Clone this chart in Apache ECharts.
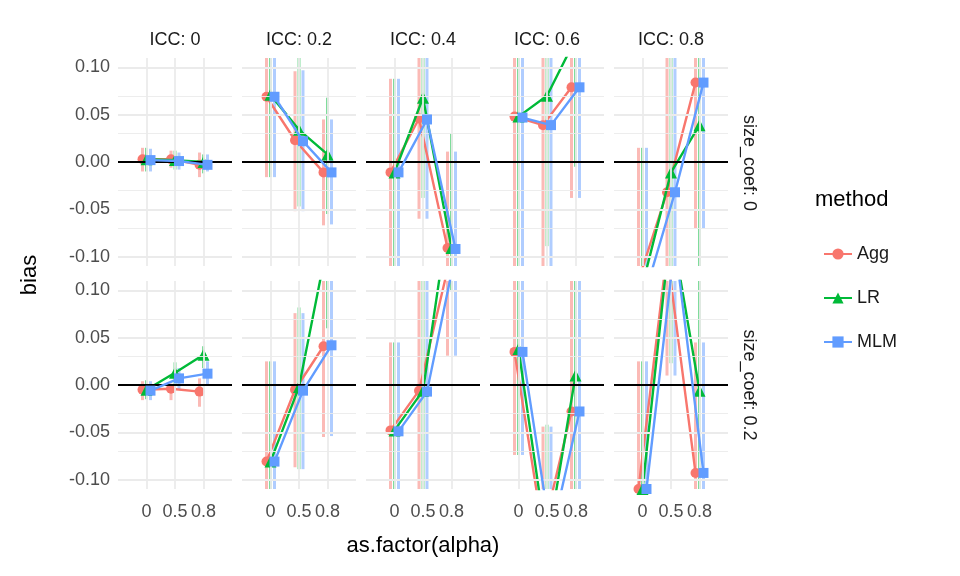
<!DOCTYPE html>
<html>
<head>
<meta charset="utf-8">
<script src="https://cdn.jsdelivr.net/npm/echarts@6/dist/echarts.min.js"></script>
<style>html,body{margin:0;background:#fff}#chart{width:960px;height:576px}</style>
</head>
<body>
<div id="chart"></div>
<script>
var alphaLabels = ['0', '0.5', '0.8'];
var iccLabels = ['ICC: 0', 'ICC: 0.2', 'ICC: 0.4', 'ICC: 0.6', 'ICC: 0.8'];
var sizeLabels = ['size_coef: 0', 'size_coef: 0.2'];
var methods = ['Agg', 'LR', 'MLM'];
var yTicks = [-0.1, -0.05, 0, 0.05, 0.1];

// mean bias [row][icc][alpha]
var aggMean = [
  [[0.003, 0.003, -0.003], [0.069, 0.023, -0.011], [-0.011, 0.046, -0.091], [0.048, 0.039, 0.079], [-0.125, -0.032, 0.084]],
  [[-0.005, -0.004, -0.007], [-0.081, -0.005, 0.041], [-0.048, -0.006, 0.122], [0.035, -0.155, -0.028], [-0.11, 0.14, -0.093]]
];
var lrMean = [
  [[0.003, 0.002, 0.0], [0.071, 0.034, 0.008], [-0.011, 0.068, -0.091], [0.048, 0.070, 0.13], [-0.13, -0.011, 0.039]],
  [[-0.005, 0.013, 0.032], [-0.081, -0.002, 0.15], [-0.048, -0.006, 0.2], [0.038, -0.17, 0.01], [-0.11, 0.17, -0.006]]
];
var mlmMean = [
  [[0.002, 0.001, -0.003], [0.069, 0.022, -0.011], [-0.011, 0.045, -0.092], [0.047, 0.039, 0.079], [-0.134, -0.032, 0.084]],
  [[-0.006, 0.007, 0.012], [-0.081, -0.006, 0.042], [-0.049, -0.007, 0.139], [0.035, -0.16, -0.028], [-0.11, 0.15, -0.093]]
];
// interval bounds
var aggLo = [
  [[-0.01, -0.006, -0.016], [-0.016, -0.052, -0.067], [-0.2, -0.06, -0.2], [-0.2, -0.2, -0.038], [-0.2, -0.2, -0.07]],
  [[-0.016, -0.016, -0.023], [-0.2, -0.087, -0.055], [-0.2, -0.2, 0.031], [-0.074, -0.2, -0.2], [-0.2, 0.01, -0.2]]
];
var aggHi = [
  [[0.015, 0.012, 0.01], [0.2, 0.096, 0.045], [0.088, 0.2, 0.011], [0.2, 0.2, 0.2], [0.015, 0.2, 0.2]],
  [[0.004, 0.001, 0.007], [0.025, 0.076, 0.2], [0.045, 0.2, 0.2], [0.2, -0.044, 0.2], [0.025, 0.2, 0.045]]
];
var lrLo = [
  [[-0.01, -0.008, -0.012], [-0.016, -0.047, -0.055], [-0.2, -0.038, -0.2], [-0.2, -0.089, -0.005], [-0.2, -0.2, -0.2]],
  [[-0.015, 0.001, 0.018], [-0.2, -0.089, 0.06], [-0.2, -0.2, 0.1], [-0.074, -0.2, -0.2], [-0.2, 0.023, -0.2]]
];
var lrHi = [
  [[0.015, 0.012, 0.008], [0.2, 0.2, 0.068], [0.088, 0.2, 0.03], [0.2, 0.2, 0.2], [0.015, 0.2, 0.2]],
  [[0.005, 0.024, 0.041], [0.025, 0.082, 0.2], [0.045, 0.2, 0.2], [0.2, -0.042, 0.2], [0.025, 0.2, 0.2]]
];
var mlmLo = [
  [[-0.01, -0.008, -0.01], [-0.016, -0.052, -0.066], [-0.2, -0.06, -0.2], [-0.2, -0.2, -0.038], [-0.2, -0.2, -0.07]],
  [[-0.016, -0.005, 0.001], [-0.2, -0.089, -0.054], [-0.2, -0.2, 0.031], [-0.074, -0.2, -0.2], [-0.2, 0.01, -0.2]]
];
var mlmHi = [
  [[0.014, 0.01, 0.008], [0.2, 0.097, 0.045], [0.088, 0.2, 0.011], [0.2, 0.2, 0.2], [0.015, 0.2, 0.2]],
  [[0.004, 0.018, 0.025], [0.025, 0.076, 0.2], [0.045, 0.2, 0.2], [0.2, -0.044, 0.2], [0.025, 0.2, 0.045]]
];

var means = [aggMean, lrMean, mlmMean];
var los = [aggLo, lrLo, mlmLo];
var his = [aggHi, lrHi, mlmHi];
var colors = ['#F8766D', '#00BA38', '#619CFF'];
var symbols = ['circle', 'triangle', 'rect'];
var dodge = [-0.14, 0, 0.14];
var YMIN = -0.11, YMAX = 0.11;

var chart = echarts.init(document.getElementById('chart'));
var grids = [], xAxes = [], yAxes = [], series = [], graphics = [];
var tickFont = { color: '#4d4d4d', fontSize: 18, fontFamily: 'Liberation Sans' };

for (var r = 0; r < 2; r++) {
  for (var c = 0; c < 5; c++) {
    var gi = r * 5 + c;
    grids.push({ left: 118 + c * 124, top: r === 0 ? 58 : 281, width: 114, height: 208 });
    xAxes.push({
      type: 'value', gridIndex: gi, min: 0, max: 4,
      axisLine: { show: false }, axisTick: { show: false }, splitLine: { show: false },
      axisLabel: r === 1 ? Object.assign({
        customValues: [1, 2, 3], margin: 14, hideOverlap: false,
        formatter: function (v) { return alphaLabels[v - 1]; }
      }, tickFont) : { show: false }
    });
    yAxes.push({
      type: 'value', gridIndex: gi, min: YMIN, max: YMAX,
      axisLine: { show: false }, axisTick: { show: false }, splitLine: { show: false },
      axisLabel: c === 0 ? Object.assign({
        customValues: yTicks, margin: 8,
        formatter: function (v) { return v.toFixed(2); }
      }, tickFont) : { show: false }
    });
    // grid lines
    var gl = [];
    [-0.1, -0.075, -0.05, -0.025, 0.025, 0.05, 0.075, 0.1].forEach(function (v) {
      var major = Math.round(v * 1000) % 50 === 0;
      gl.push({ yAxis: v, lineStyle: { color: '#ebebeb', width: major ? 1.8 : 0.9, type: 'solid' } });
    });
    [1, 2, 3].forEach(function (v) {
      gl.push({ xAxis: v, lineStyle: { color: '#ebebeb', width: 1.8, type: 'solid' } });
    });
    series.push({
      type: 'line', xAxisIndex: gi, yAxisIndex: gi, data: [[2, 0]], showSymbol: false,
      lineStyle: { opacity: 0 }, silent: true, z: 0,
      markLine: { silent: true, symbol: 'none', label: { show: false }, data: gl, animation: false }
    });
    // error bars
    for (var m = 0; m < 3; m++) {
      var eb = [];
      for (var a = 0; a < 3; a++) eb.push([a + 1 + dodge[m], los[m][r][c][a], his[m][r][c][a]]);
      series.push({
        type: 'custom', xAxisIndex: gi, yAxisIndex: gi, data: eb, silent: true, z: 1,
        encode: { x: 0, y: [1, 2] },
        renderItem: (function (col) {
          return function (params, api) {
            var x = api.value(0);
            var lo = Math.max(api.value(1), YMIN), hi = Math.min(api.value(2), YMAX);
            var p1 = api.coord([x, lo]), p2 = api.coord([x, hi]);
            return { type: 'line', shape: { x1: p1[0], y1: p1[1], x2: p2[0], y2: p2[1] },
              style: { stroke: col, lineWidth: 3, opacity: 0.5 } };
          };
        })(colors[m])
      });
    }
    // zero line
    series.push({
      type: 'line', xAxisIndex: gi, yAxisIndex: gi, data: [[2, 0]], showSymbol: false,
      lineStyle: { opacity: 0 }, silent: true, z: 2,
      markLine: { silent: true, symbol: 'none', label: { show: false }, animation: false,
        data: [{ yAxis: 0, lineStyle: { color: '#000', width: 2.2, type: 'solid' } }] }
    });
    // means
    for (var m2 = 0; m2 < 3; m2++) {
      var pts = [];
      for (var a2 = 0; a2 < 3; a2++) pts.push([a2 + 1 + dodge[m2], means[m2][r][c][a2]]);
      series.push({
        name: methods[m2], type: 'line', xAxisIndex: gi, yAxisIndex: gi, data: pts,
        symbol: symbols[m2], symbolSize: m2 === 1 ? 12 : 10, clip: true, z: 3 + m2,
        itemStyle: { color: colors[m2] }, lineStyle: { color: colors[m2], width: 2.4 },
        animation: false
      });
    }
  }
}

for (var c2 = 0; c2 < 5; c2++) {
  graphics.push({ type: 'text', x: 175 + c2 * 124, y: 40, style: { text: iccLabels[c2],
    fill: '#1a1a1a', font: '18px "Liberation Sans"', textAlign: 'center', textVerticalAlign: 'middle' } });
}
[163, 385].forEach(function (yc, i) {
  graphics.push({ type: 'text', x: 749, y: yc, rotation: -Math.PI / 2, style: { text: sizeLabels[i],
    fill: '#1a1a1a', font: '18px "Liberation Sans"', textAlign: 'center', textVerticalAlign: 'middle' } });
});
graphics.push({ type: 'text', x: 30, y: 275, rotation: Math.PI / 2, style: { text: 'bias',
  fill: '#000', font: '22px "Liberation Sans"', textAlign: 'center', textVerticalAlign: 'middle' } });
graphics.push({ type: 'text', x: 423, y: 546, style: { text: 'as.factor(alpha)',
  fill: '#000', font: '22px "Liberation Sans"', textAlign: 'center', textVerticalAlign: 'middle' } });
graphics.push({ type: 'text', x: 815, y: 200, style: { text: 'method',
  fill: '#000', font: '22px "Liberation Sans"', textAlign: 'left', textVerticalAlign: 'middle' } });

var option = {
  animation: false,
  grid: grids, xAxis: xAxes, yAxis: yAxes, series: series,
  graphic: graphics,
  legend: {
    data: methods, orient: 'vertical', left: 818, top: 240, itemGap: 26,
    itemWidth: 28, itemHeight: 14, selectedMode: false,
    textStyle: { fontSize: 18, color: '#1a1a1a', fontFamily: 'Liberation Sans' }
  }
};
chart.setOption(option);
</script>
</body>
</html>
